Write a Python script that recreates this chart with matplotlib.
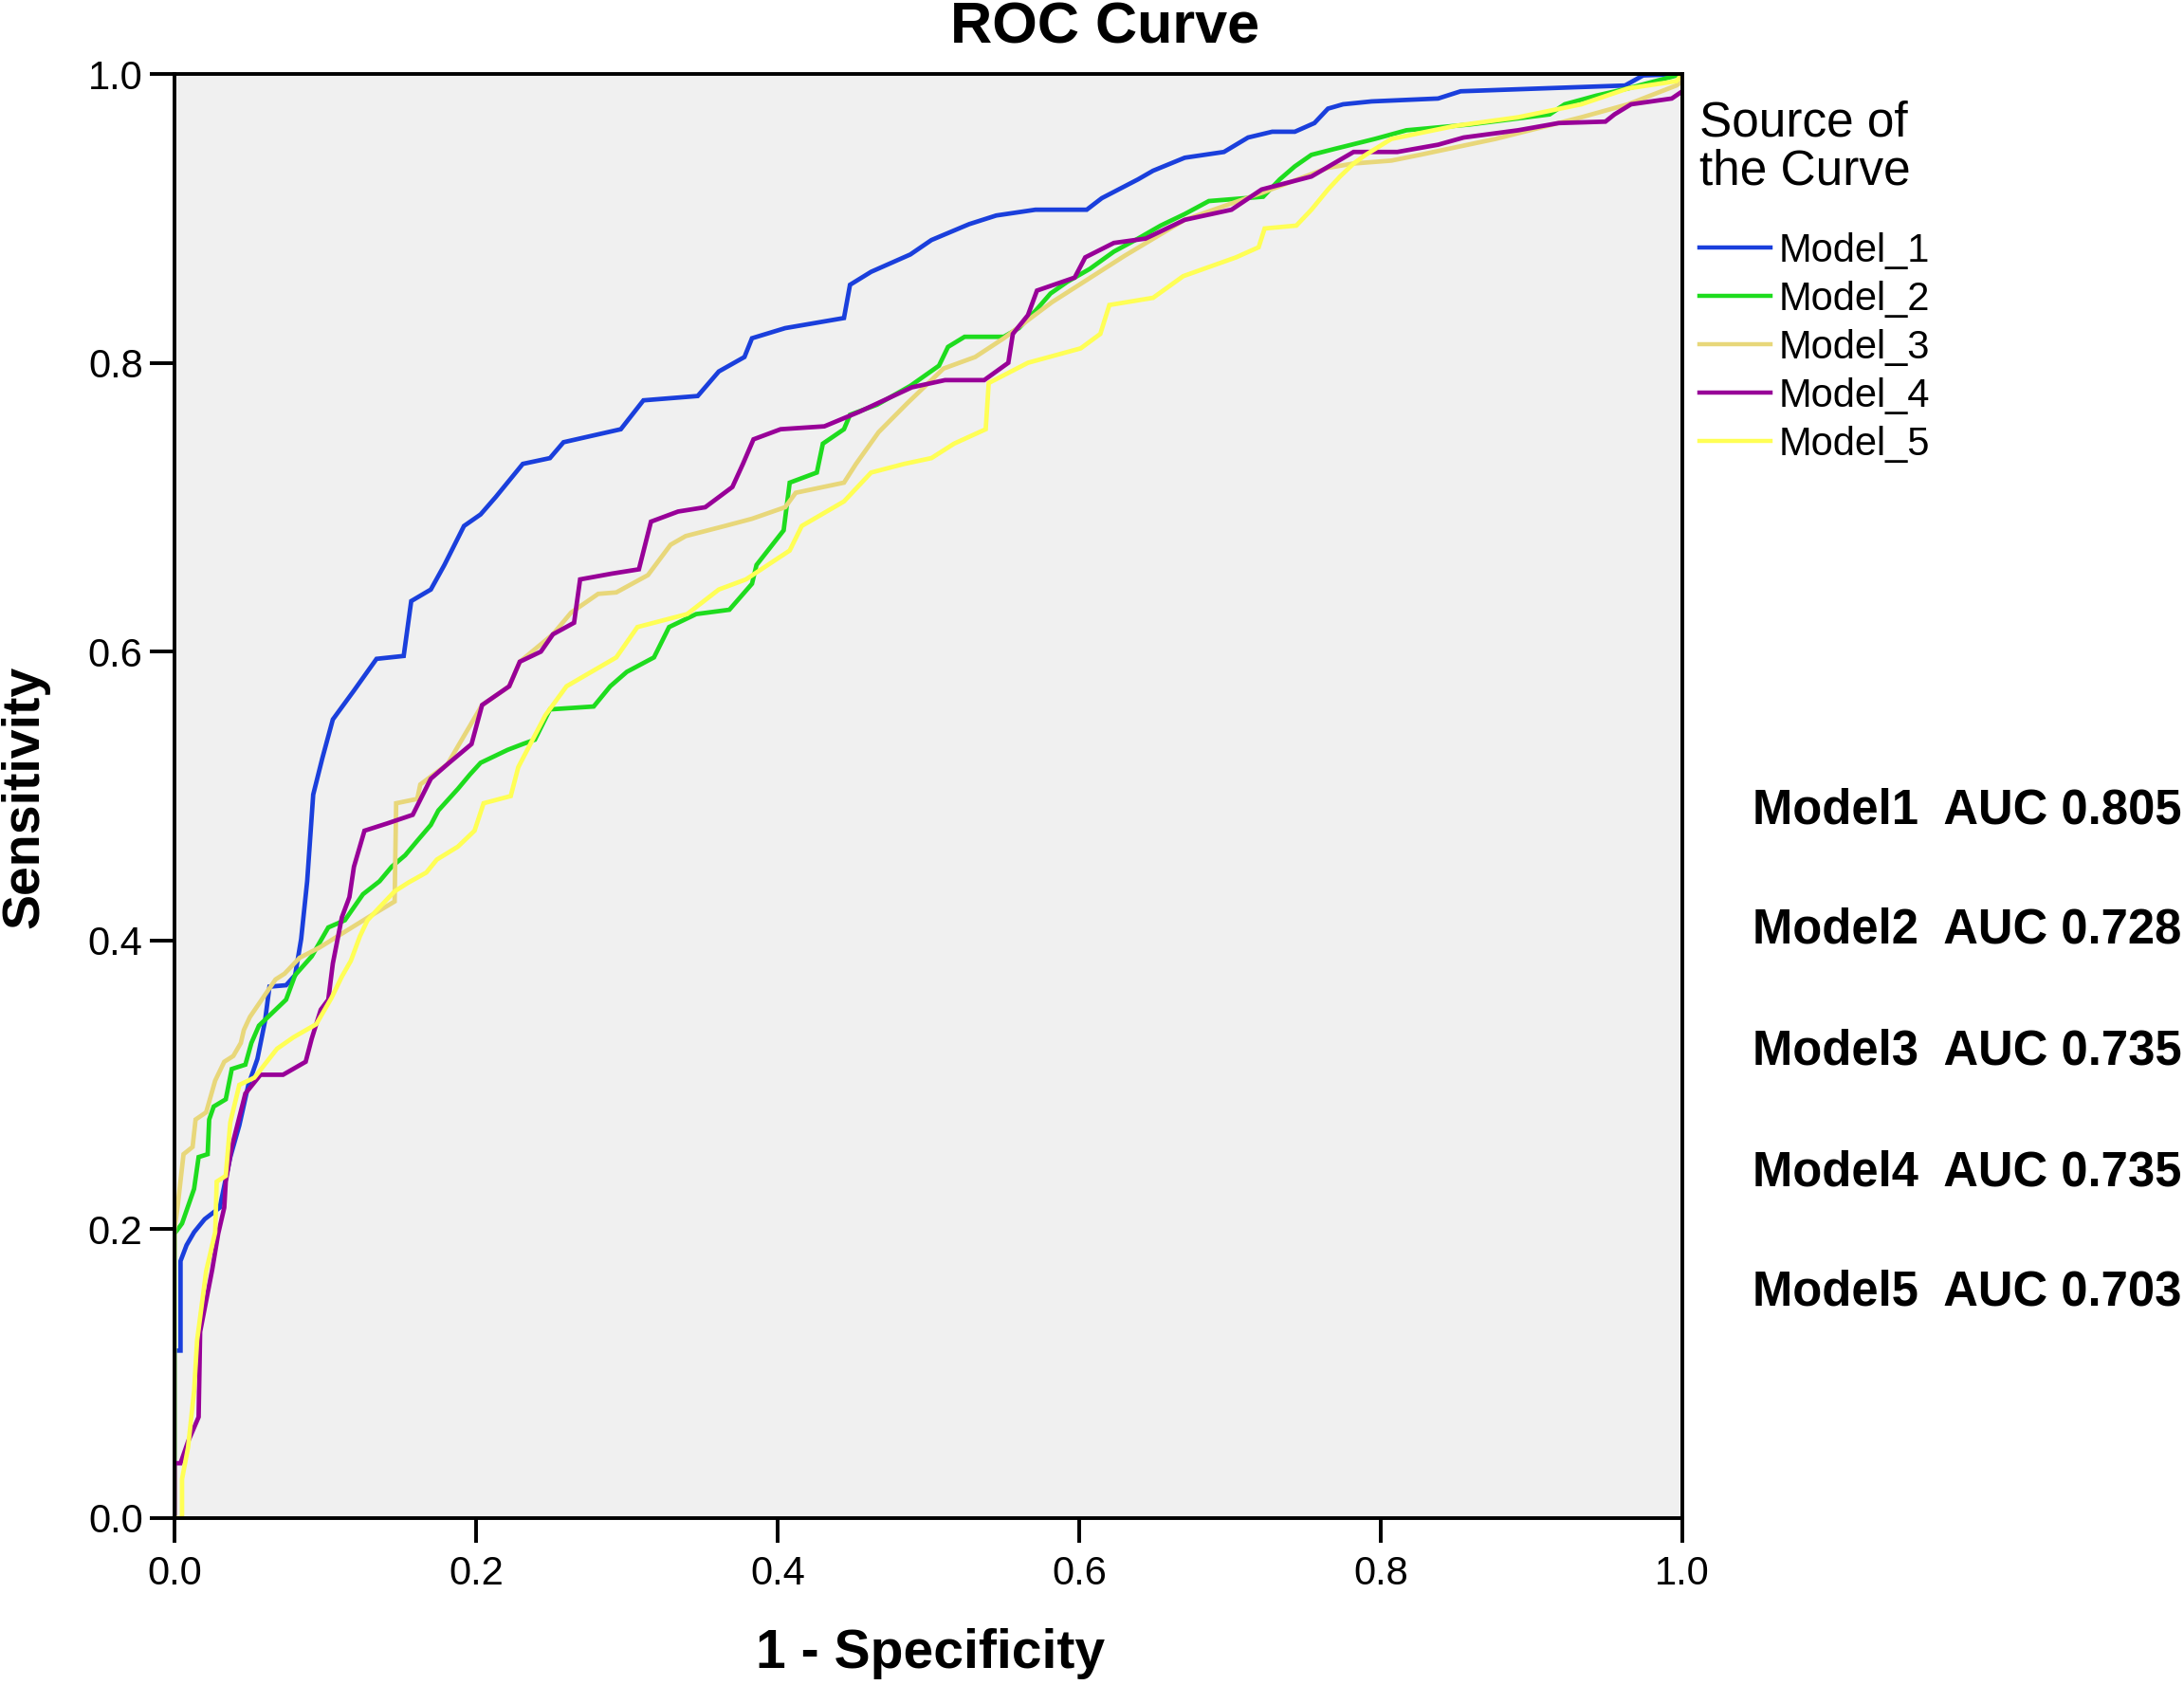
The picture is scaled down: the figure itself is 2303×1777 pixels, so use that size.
import matplotlib
matplotlib.use("Agg")
import matplotlib.pyplot as plt

plt.rcParams['font.family'] = ['Liberation Sans', 'DejaVu Sans']

# ---------------- data ----------------
model_names = ["Model_1", "Model_2", "Model_3", "Model_4", "Model_5"]
auc_labels = ["Model1  AUC 0.805", "Model2  AUC 0.728", "Model3  AUC 0.735",
              "Model4  AUC 0.735", "Model5  AUC 0.703"]
tick_values = [0.0, 0.2, 0.4, 0.6, 0.8, 1.0]
tick_labels = ["0.0", "0.2", "0.4", "0.6", "0.8", "1.0"]

fpr1 = [0, 0, 0.004, 0.004, 0.008, 0.013, 0.020, 0.030, 0.037, 0.043, 0.049, 0.055, 0.060, 0.063, 0.074, 0.080,
        0.084, 0.088, 0.092, 0.098, 0.105, 0.119, 0.134, 0.152, 0.157, 0.170, 0.179, 0.192, 0.203, 0.213, 0.231,
        0.249, 0.258, 0.296, 0.311, 0.347, 0.361, 0.378, 0.383, 0.405, 0.444, 0.448, 0.462, 0.488, 0.502, 0.527,
        0.545, 0.571, 0.605, 0.615, 0.639, 0.649, 0.670, 0.696, 0.712, 0.728, 0.743, 0.756, 0.765, 0.775, 0.794,
        0.838, 0.853, 0.907, 0.962, 0.974, 1.0]
tpr1 = [0, 0.116, 0.116, 0.178, 0.189, 0.198, 0.207, 0.215, 0.250, 0.272, 0.300, 0.318, 0.344, 0.368, 0.369, 0.376,
        0.401, 0.441, 0.501, 0.526, 0.553, 0.573, 0.595, 0.597, 0.635, 0.643, 0.660, 0.687, 0.695, 0.707, 0.730,
        0.734, 0.745, 0.754, 0.774, 0.777, 0.794, 0.804, 0.817, 0.824, 0.831, 0.854, 0.863, 0.875, 0.885, 0.896,
        0.902, 0.906, 0.906, 0.914, 0.927, 0.933, 0.942, 0.946, 0.956, 0.960, 0.960, 0.966, 0.976, 0.979, 0.981,
        0.983, 0.988, 0.990, 0.992, 0.999, 1.0]

fpr2 = [0, 0, 0.005, 0.013, 0.016, 0.022, 0.023, 0.026, 0.034, 0.038, 0.047, 0.051, 0.056, 0.063, 0.074, 0.080,
        0.091, 0.102, 0.113, 0.119, 0.125, 0.136, 0.144, 0.153, 0.161, 0.170, 0.175, 0.188, 0.196, 0.203, 0.221,
        0.231, 0.239, 0.249, 0.278, 0.289, 0.300, 0.318, 0.328, 0.346, 0.368, 0.383, 0.386, 0.404, 0.408, 0.426,
        0.430, 0.444, 0.448, 0.466, 0.488, 0.507, 0.513, 0.524, 0.550, 0.560, 0.571, 0.581, 0.592, 0.607, 0.623,
        0.639, 0.654, 0.670, 0.686, 0.722, 0.733, 0.743, 0.754, 0.769, 0.796, 0.817, 0.859, 0.912, 0.922, 0.943,
        0.964, 1.0]
tpr2 = [0, 0.197, 0.204, 0.228, 0.250, 0.252, 0.276, 0.285, 0.290, 0.311, 0.314, 0.329, 0.341, 0.348, 0.359, 0.376,
        0.389, 0.409, 0.414, 0.423, 0.432, 0.441, 0.451, 0.459, 0.469, 0.480, 0.490, 0.505, 0.515, 0.523, 0.532,
        0.536, 0.539, 0.560, 0.562, 0.576, 0.586, 0.596, 0.617, 0.626, 0.629, 0.647, 0.660, 0.684, 0.717, 0.724,
        0.744, 0.754, 0.764, 0.771, 0.784, 0.798, 0.811, 0.818, 0.818, 0.824, 0.836, 0.848, 0.856, 0.865, 0.877,
        0.886, 0.895, 0.903, 0.912, 0.915, 0.927, 0.936, 0.944, 0.948, 0.955, 0.961, 0.965, 0.972, 0.979, 0.985,
        0.990, 1.0]

fpr3 = [0, 0, 0.002, 0.006, 0.012, 0.014, 0.021, 0.027, 0.033, 0.039, 0.044, 0.046, 0.050, 0.067, 0.073, 0.083,
        0.096, 0.130, 0.146, 0.147, 0.161, 0.163, 0.181, 0.204, 0.222, 0.229, 0.251, 0.263, 0.281, 0.293, 0.314,
        0.329, 0.339, 0.365, 0.383, 0.405, 0.412, 0.444, 0.452, 0.467, 0.486, 0.510, 0.531, 0.550, 0.582, 0.630,
        0.670, 0.722, 0.765, 0.782, 0.807, 0.826, 0.876, 0.933, 0.964, 0.996, 1.0]
tpr3 = [0, 0.200, 0.215, 0.252, 0.257, 0.276, 0.281, 0.303, 0.316, 0.320, 0.329, 0.338, 0.347, 0.373, 0.377, 0.388,
        0.395, 0.417, 0.427, 0.495, 0.498, 0.508, 0.522, 0.563, 0.576, 0.593, 0.612, 0.627, 0.640, 0.641, 0.653,
        0.674, 0.680, 0.687, 0.692, 0.700, 0.710, 0.717, 0.730, 0.752, 0.772, 0.796, 0.804, 0.817, 0.842, 0.874,
        0.899, 0.918, 0.935, 0.938, 0.940, 0.944, 0.955, 0.970, 0.979, 0.992, 0.995]

fpr4 = [0, 0, 0.004, 0.009, 0.016, 0.017, 0.025, 0.029, 0.033, 0.034, 0.038, 0.047, 0.057, 0.072, 0.087, 0.091,
        0.097, 0.102, 0.105, 0.111, 0.116, 0.119, 0.126, 0.141, 0.158, 0.170, 0.181, 0.197, 0.204, 0.222, 0.229,
        0.243, 0.251, 0.265, 0.269, 0.290, 0.308, 0.316, 0.334, 0.352, 0.370, 0.377, 0.384, 0.402, 0.431, 0.454,
        0.489, 0.511, 0.537, 0.553, 0.556, 0.566, 0.572, 0.597, 0.604, 0.623, 0.644, 0.670, 0.701, 0.721, 0.754,
        0.782, 0.811, 0.838, 0.855, 0.891, 0.918, 0.949, 0.955, 0.966, 0.993, 1.0]
tpr4 = [0, 0.038, 0.038, 0.053, 0.070, 0.129, 0.172, 0.197, 0.215, 0.233, 0.257, 0.294, 0.307, 0.307, 0.316, 0.332,
        0.352, 0.359, 0.384, 0.416, 0.430, 0.451, 0.476, 0.481, 0.487, 0.512, 0.522, 0.536, 0.563, 0.576, 0.593,
        0.600, 0.612, 0.620, 0.650, 0.654, 0.657, 0.690, 0.697, 0.700, 0.714, 0.730, 0.747, 0.754, 0.756, 0.766,
        0.783, 0.788, 0.788, 0.800, 0.820, 0.833, 0.850, 0.859, 0.873, 0.883, 0.886, 0.899, 0.906, 0.920, 0.929,
        0.946, 0.946, 0.951, 0.956, 0.961, 0.966, 0.967, 0.972, 0.979, 0.983, 0.988]

fpr5 = [0, 0.005, 0.005, 0.009, 0.013, 0.015, 0.021, 0.027, 0.028, 0.034, 0.037, 0.043, 0.053, 0.068, 0.079, 0.094,
        0.104, 0.111, 0.117, 0.123, 0.128, 0.136, 0.146, 0.155, 0.167, 0.174, 0.188, 0.199, 0.205, 0.223, 0.228,
        0.246, 0.260, 0.293, 0.307, 0.340, 0.361, 0.379, 0.408, 0.416, 0.444, 0.462, 0.484, 0.502, 0.517, 0.538,
        0.540, 0.566, 0.601, 0.614, 0.620, 0.649, 0.669, 0.704, 0.719, 0.723, 0.744, 0.754, 0.765, 0.773, 0.782,
        0.790, 0.807, 0.849, 0.891, 0.933, 0.964, 0.996, 1.0]
tpr5 = [0, 0, 0.027, 0.049, 0.088, 0.123, 0.171, 0.198, 0.233, 0.237, 0.274, 0.300, 0.305, 0.325, 0.333, 0.342,
        0.360, 0.375, 0.386, 0.403, 0.414, 0.423, 0.434, 0.440, 0.447, 0.456, 0.465, 0.476, 0.495, 0.500, 0.520,
        0.556, 0.576, 0.596, 0.617, 0.626, 0.643, 0.650, 0.670, 0.687, 0.704, 0.724, 0.730, 0.734, 0.744, 0.754,
        0.786, 0.800, 0.810, 0.820, 0.840, 0.845, 0.860, 0.873, 0.880, 0.893, 0.895, 0.906, 0.920, 0.929, 0.938,
        0.944, 0.955, 0.964, 0.970, 0.979, 0.990, 0.995, 1.0]

fprs = [fpr1, fpr2, fpr3, fpr4, fpr5]
tprs = [tpr1, tpr2, tpr3, tpr4, tpr5]
colors = ["#1a3fdc", "#1edc1e", "#e8d77a", "#980098", "#ffff55"]

# ---------------- figure ----------------
W, H = 2303, 1777
fig = plt.figure(figsize=(W / 100, H / 100), dpi=100)
ax = fig.add_axes([184 / W, 1 - 1601 / H, (1774 - 184) / W, (1601 - 78) / H])
ax.set_facecolor("#f0f0f0")

for fx, ty, c, name in zip(fprs, tprs, colors, model_names):
    ax.plot(fx, ty, color=c, lw=3.4, label=name, solid_joinstyle="miter")

ax.set_xlim(0, 1)
ax.set_ylim(0, 1)
ax.set_xticks(tick_values)
ax.set_xticklabels(tick_labels)
ax.set_yticks(tick_values)
ax.set_yticklabels(tick_labels)
ax.tick_params(axis="both", direction="out", length=19, width=2.8, labelsize=30, color="black")
ax.tick_params(axis="x", pad=9)
ax.tick_params(axis="y", pad=5)
for s in ax.spines.values():
    s.set_linewidth(2.8)
    s.set_color("black")

fig.text(0.506, 1 - 30 / H, "ROC Curve", ha="center", va="center", fontsize=44, fontweight="bold")
fig.text(981 / W, 1 - 1744 / H, "1 - Specificity", ha="center", va="center", fontsize=41, fontweight="bold")
fig.text(26 / W, 1 - 840 / H, "Sensitivity", ha="center", va="center", rotation=90, fontsize=40,
         fontweight="bold")

leg = ax.legend(loc="upper left", bbox_to_anchor=(1792 / W, 1 - 106 / H), bbox_transform=fig.transFigure,
                frameon=False, fontsize=30, title="Source of\nthe Curve", title_fontsize=37,
                handlelength=1.8, handletextpad=0.2, labelspacing=0.265, borderpad=0, borderaxespad=0,
                alignment="left")
for line in leg.get_lines():
    line.set_linewidth(3.2)
leg.get_title().set_linespacing(1.05)
leg._legend_box.sep = 28

auc_y = [855, 981, 1109, 1237, 1363]
for txt, yy in zip(auc_labels, auc_y):
    fig.text(1848 / W, 1 - yy / H, txt, ha="left", va="center", fontsize=36.5, fontweight="bold")

fig.savefig("out.png", dpi=100, facecolor="white")
